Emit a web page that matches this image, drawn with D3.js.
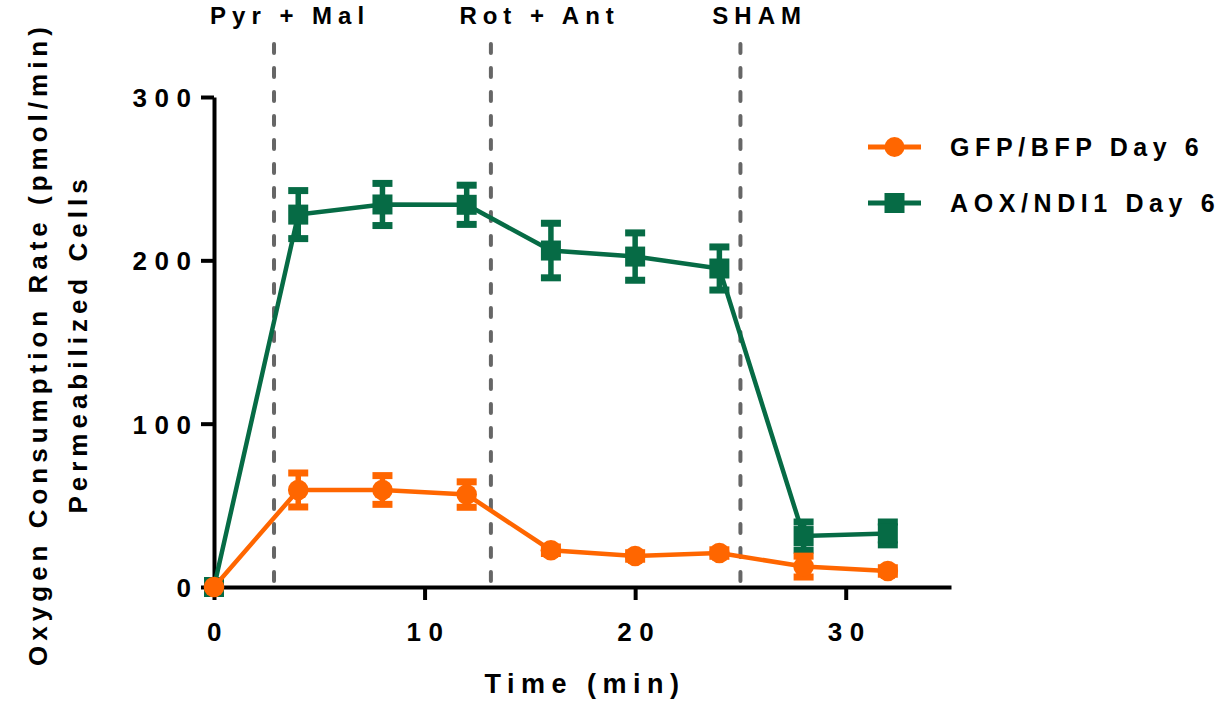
<!DOCTYPE html>
<html>
<head>
<meta charset="utf-8">
<script src="https://cdn.jsdelivr.net/npm/d3@7"></script>
<style>
  body { margin: 0; background: #fff; }
  svg { display: block; font-family: "Liberation Sans", Arial, sans-serif; font-weight: bold; }
</style>
</head>
<body>
<div id="chart"></div>
<script>
// Oxygen consumption of permeabilized cells, GFP/BFP vs AOX/NDI1 (day 6)

const times = [0, 4, 8, 12, 16, 20, 24, 28, 32];
const gfpMean = [0, 59.4, 59.4, 56.6, 22.5, 19, 20.8, 12.5, 9.8];
const gfpErr  = [0, 10.4, 8.8, 7.8, 2, 2, 2, 6.4, 2];
const aoxMean = [0, 228, 234.2, 234, 206, 202.3, 195, 31.2, 32.8];
const aoxErr  = [0, 14.7, 12.9, 12, 16.7, 14.5, 13.2, 8.6, 7];

const injectionTimes  = [2.85, 13.15, 25];
const injectionLabels = ["Pyr + Mal", "Rot + Ant", "SHAM"];
const injectionLabelX = [3.47, 15.32, 25.77];

const xTicks = [0, 10, 20, 30];
const yTicks = [0, 100, 200, 300];

const seriesNames  = ["GFP/BFP Day 6", "AOX/NDI1 Day 6"];
const seriesColors = ["#ff6600", "#066b45"];

const W = 1227, H = 701;
const svg = d3.select("#chart").append("svg").attr("width", W).attr("height", H);

const x = d3.scaleLinear().domain([0, 35]).range([214, 951]);
const y = d3.scaleLinear().domain([0, 300]).range([587, 97]);

// axes
const xAxis = svg.append("g").attr("transform", `translate(0,${y(0)})`)
  .call(d3.axisBottom(x).tickValues(xTicks).tickSize(13).tickSizeOuter(0).tickPadding(8));
const yAxis = svg.append("g").attr("transform", `translate(${x(0)},0)`)
  .call(d3.axisLeft(y).tickValues(yTicks).tickSize(13).tickSizeOuter(0).tickPadding(10));

[xAxis, yAxis].forEach(g => {
  g.selectAll(".domain, .tick line").attr("stroke", "#000").attr("stroke-width", 4);
  g.selectAll("text").attr("fill", "#000").attr("font-size", 26)
    .style("letter-spacing", "7.5px").attr("font-family", "Liberation Sans, Arial, sans-serif").attr("font-weight", "bold");
});
xAxis.selectAll("text").attr("dx", 3.5).attr("y", 54).attr("dy", 0);
yAxis.selectAll("text").attr("dx", 7.5).attr("dy", "0.36em");

// axis titles
svg.append("text").attr("x", 585).attr("y", 693).attr("text-anchor", "middle")
  .attr("font-size", 27).style("letter-spacing", "6.5px").text("Time (min)");

const yTitle = svg.append("text").attr("transform", "translate(0,344) rotate(-90)")
  .attr("text-anchor", "middle").attr("font-size", 26).style("letter-spacing", "5px");
yTitle.append("tspan").attr("x", 0).attr("y", 47).text("Oxygen Consumption Rate (pmol/min)");
yTitle.append("tspan").attr("x", 0).attr("y", 87).text("Permeabilized Cells");

// injection markers
svg.append("g").selectAll("line").data(injectionTimes).join("line")
  .attr("x1", d => x(d)).attr("x2", d => x(d))
  .attr("y1", 44).attr("y2", y(0))
  .attr("stroke", "#666").attr("stroke-width", 4)
  .attr("stroke-linecap", "round").attr("stroke-dasharray", "9 15");

svg.append("g").selectAll("text").data(injectionLabels).join("text")
  .attr("x", (d, i) => x(injectionLabelX[i]) + 3).attr("y", 24)
  .attr("text-anchor", "middle").attr("font-size", 24).style("letter-spacing", "6px")
  .text(d => d);

// series
const series = [
  { mean: aoxMean, err: aoxErr, color: seriesColors[1], shape: "square" },
  { mean: gfpMean, err: gfpErr, color: seriesColors[0], shape: "circle" }
];
const line = d3.line().x(d => x(d[0])).y(d => y(d[1]));

series.forEach(s => {
  const pts = times.map((t, i) => [t, s.mean[i], s.err[i]]);
  const g = svg.append("g");
  g.append("path").datum(pts).attr("d", line)
    .attr("fill", "none").attr("stroke", s.color).attr("stroke-width", 4.5);
  const eb = g.selectAll(".eb").data(pts.filter(p => p[2] > 0)).join("g");
  eb.append("line").attr("x1", p => x(p[0])).attr("x2", p => x(p[0]))
    .attr("y1", p => y(p[1] + p[2])).attr("y2", p => y(p[1] - p[2]))
    .attr("stroke", s.color).attr("stroke-width", 5.5);
  [1, -1].forEach(k => {
    eb.append("line").attr("x1", p => x(p[0]) - 10).attr("x2", p => x(p[0]) + 10)
      .attr("y1", p => y(p[1] + k * p[2])).attr("y2", p => y(p[1] + k * p[2]))
      .attr("stroke", s.color).attr("stroke-width", 7);
  });
  if (s.shape === "circle") {
    g.selectAll("circle").data(pts).join("circle")
      .attr("cx", p => x(p[0])).attr("cy", p => y(p[1])).attr("r", 10.3).attr("fill", s.color);
  } else {
    g.selectAll("rect").data(pts).join("rect")
      .attr("x", p => x(p[0]) - 10).attr("y", p => y(p[1]) - 10)
      .attr("width", 20).attr("height", 20).attr("fill", s.color);
  }
});

// legend
const legend = svg.append("g").selectAll("g").data(seriesNames).join("g")
  .attr("transform", (d, i) => `translate(0,${147 + i * 56})`);
legend.append("line").attr("x1", 868).attr("x2", 921)
  .attr("stroke", (d, i) => seriesColors[i]).attr("stroke-width", 5);
legend.filter((d, i) => i === 0).append("circle").attr("cx", 894.5).attr("r", 10).attr("fill", seriesColors[0]);
legend.filter((d, i) => i === 1).append("rect").attr("x", 884.5).attr("y", -10)
  .attr("width", 20).attr("height", 20).attr("fill", seriesColors[1]);
legend.append("text").attr("x", 950).attr("dy", "0.36em")
  .attr("font-size", 25).style("letter-spacing", "5.6px").text(d => d);
</script>
</body>
</html>
